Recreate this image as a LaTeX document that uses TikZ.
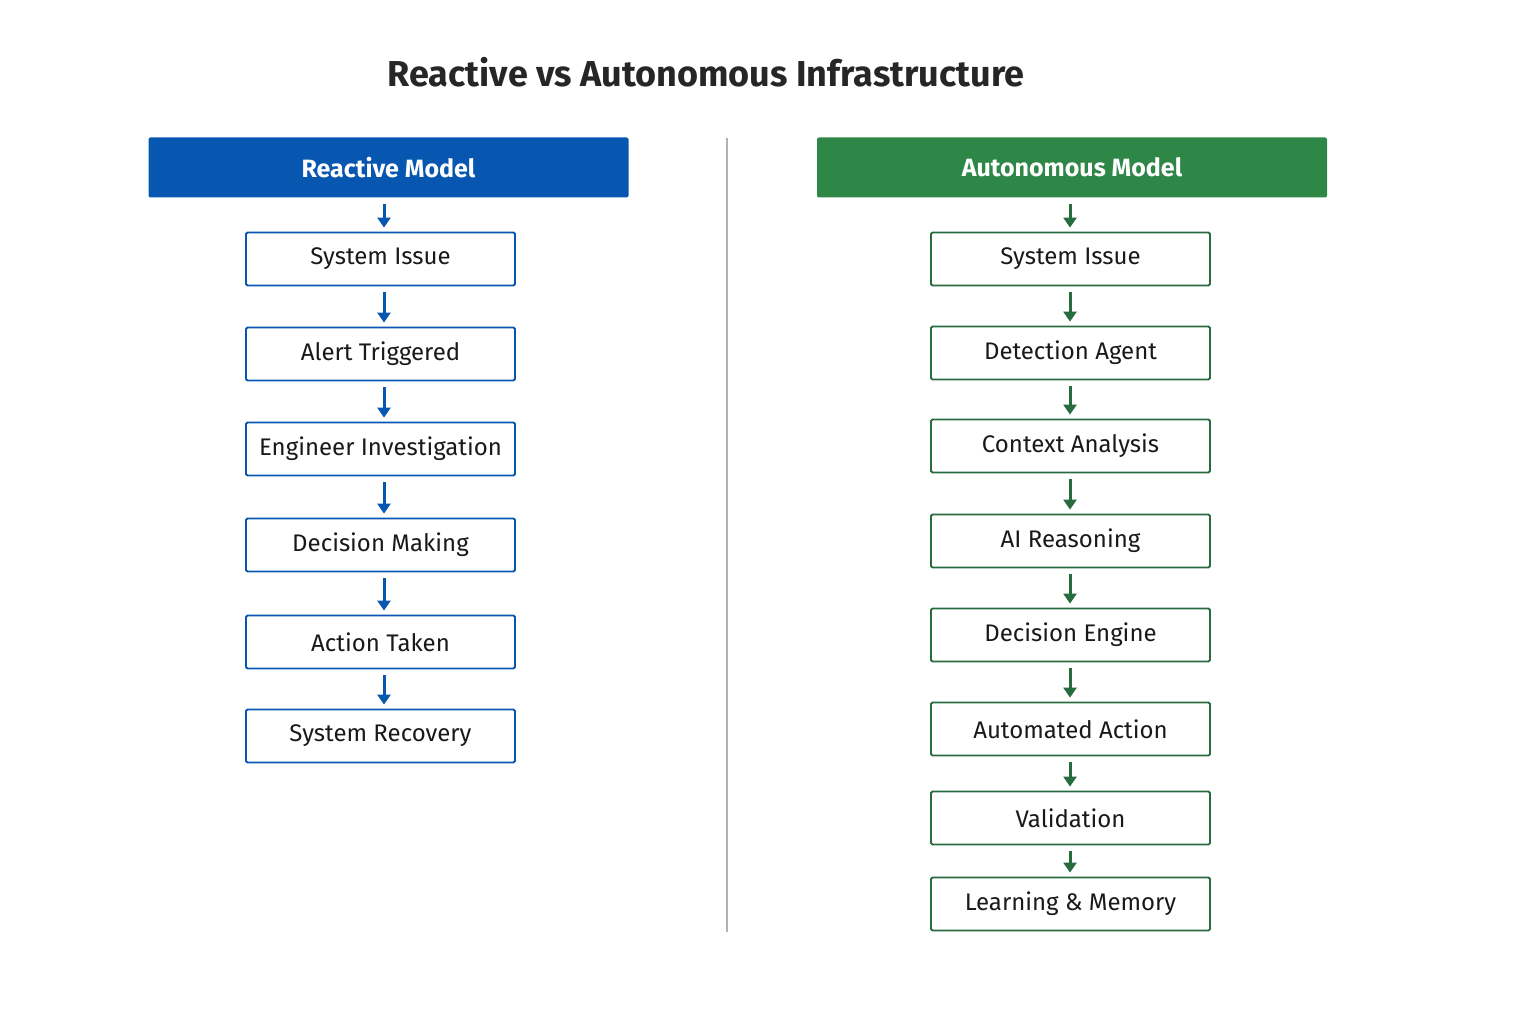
\documentclass[tikz,border=0pt]{standalone}
\usepackage{fontspec}
\setmainfont{Fira Sans}
\usetikzlibrary{arrows.meta}
\definecolor{rblue}{HTML}{0757B0}
\definecolor{rgreen}{HTML}{2E8647}
\definecolor{gline}{HTML}{276B3E}
\begin{document}
\begin{tikzpicture}[x=1pt,y=-1pt,
 hdr/.style={minimum height=60pt,text=white,font=\fontsize{25}{28}\selectfont\bfseries,rounded corners=2pt,inner sep=0pt},
 rbox/.style={draw=rblue,line width=1.8pt,minimum width=269pt,minimum height=53pt,rounded corners=1.5pt,font=\fontsize{24}{27}\selectfont,text=black!90,inner sep=0pt},
 gbox/.style={draw=gline,line width=1.8pt,minimum width=279pt,minimum height=53pt,rounded corners=1.5pt,font=\fontsize{24}{27}\selectfont,text=black!90,inner sep=0pt},
 rarr/.style={draw=rblue,line width=3pt,-{Triangle[width=13pt,length=10pt]},shorten <=6pt,shorten >=4pt},
 garr/.style={draw=gline,line width=3pt,-{Triangle[width=13pt,length=10pt]},shorten <=6pt,shorten >=4pt}]
\useasboundingbox (0,0) rectangle (1536,1024);
\node (title) at (706,72) {\fontsize{36}{40}\selectfont\bfseries\color{black!85}Reactive vs Autonomous Infrastructure};
\coordinate (d1) at (727,138); \coordinate (d2) at (727,932);
\draw[black!30,line width=1.5pt] (d1) -- (d2);
\node[hdr,fill=rblue,minimum width=480pt] (rh) at (388.5,167.5) {Reactive Model};
\node[hdr,fill=rgreen,minimum width=510pt] (gh) at (1072,167.5) {Autonomous Model};
\foreach \n/\y/\t in {r1/259/System Issue,r2/354/Alert Triggered,r3/449/Engineer Investigation,r4/545/Decision Making,r5/642/Action Taken,r6/736/System Recovery}
  \node[rbox] (\n) at (380.5,\y) {\t};
\foreach \n/\y/\t in {g1/259/System Issue,g2/353/Detection Agent,g3/446/Context Analysis,g4/541/AI Reasoning,g5/635/Decision Engine,g6/729/Automated Action,g7/818/Validation,g8/904/Learning \& Memory}
  \node[gbox] (\n) at (1070.5,\y) {\t};
\draw[rarr] (rh.south -| 384,0) -- (r1.north -| 384,0);
\draw[garr] (gh.south -| 1070,0) -- (g1.north -| 1070,0);
\foreach \a/\b in {r1/r2,r2/r3,r3/r4,r4/r5,r5/r6}
  \draw[rarr] (\a.south -| 384,0) -- (\b.north -| 384,0);
\foreach \a/\b in {g1/g2,g2/g3,g3/g4,g4/g5,g5/g6,g6/g7,g7/g8}
  \draw[garr] (\a.south -| 1070,0) -- (\b.north -| 1070,0);
\end{tikzpicture}
\end{document}
